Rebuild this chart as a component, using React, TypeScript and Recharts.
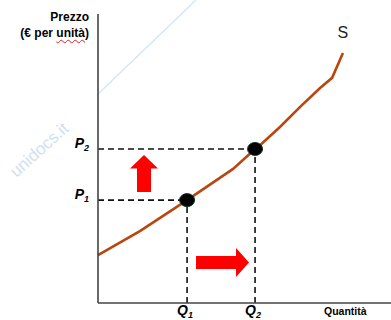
import React from 'react';
import {
  ComposedChart,
  Line,
  Scatter,
  XAxis,
  YAxis,
  ReferenceLine,
} from 'recharts';

// Supply curve S: quantity (x) against price per unit (y)
const supplyQuantity = [0, 14.3, 30.4, 46.1, 53.6, 55.3, 62.1, 68.9, 75.8, 79.9, 83.6];
const supplyPrice = [16.6, 24.9, 35.6, 46.4, 53.3, 54.6, 60.9, 67.8, 74.4, 77.9, 86.5];

// Two equilibrium points on the curve
const quantities = [30.4, 53.6];
const prices = [35.6, 53.3];
const quantityLabels = ['1', '2'];
const priceLabels = ['1', '2'];

// Direction arrows: rising price and rising quantity
const arrowX = [15.7, 42.5];
const arrowY = [44.8, 14.0];
const arrowDir = ['up', 'right'];

const supplyData = supplyQuantity.map((x, i) => ({ x, y: supplyPrice[i] }));
const pointData = quantities.map((x, i) => ({ x, y: prices[i] }));
const arrowData = arrowX.map((x, i) => ({ x, y: arrowY[i], dir: arrowDir[i] }));

const FONT = '"Liberation Sans", Arial, sans-serif';
const RED = '#ff0000';
const CURVE = '#b8460f';

const QTick = (props: any) => {
  const { x, y, payload } = props;
  const idx = quantities.indexOf(payload.value);
  return (
    <text x={x - 2} y={y + 8} textAnchor="middle" fontFamily={FONT} fontWeight="bold" fontStyle="italic" fontSize={14} fill="#000">
      <tspan>Q</tspan>
      <tspan fontSize={9} dy={2.5}>{quantityLabels[idx]}</tspan>
    </text>
  );
};

const PTick = (props: any) => {
  const { x, y, payload } = props;
  const idx = prices.indexOf(payload.value);
  return (
    <text x={x} y={y - 1} textAnchor="end" fontFamily={FONT} fontWeight="bold" fontStyle="italic" fontSize={14} fill="#000">
      <tspan>P</tspan>
      <tspan fontSize={9} dy={3}>{priceLabels[idx]}</tspan>
    </text>
  );
};

const EquilibriumDot = (props: any) => {
  const { cx, cy } = props;
  return <ellipse cx={cx} cy={cy} rx={7.5} ry={6.5} fill="#000" stroke="#123322" strokeWidth={1} />;
};

const Arrow = (props: any) => {
  const { cx, cy, payload } = props;
  if (payload.dir === 'up') {
    const pts = [
      [cx - 7, cy + 18.5],
      [cx + 7, cy + 18.5],
      [cx + 7, cy - 5],
      [cx + 14, cy - 5],
      [cx, cy - 18.5],
      [cx - 14, cy - 5],
      [cx - 7, cy - 5],
    ];
    return <polygon points={pts.map((p) => p.join(',')).join(' ')} fill={RED} />;
  }
  const pts = [
    [cx - 26.5, cy - 6.5],
    [cx + 13.5, cy - 6.5],
    [cx + 13.5, cy - 14.5],
    [cx + 26.5, cy],
    [cx + 13.5, cy + 14.5],
    [cx + 13.5, cy + 6.5],
    [cx - 26.5, cy + 6.5],
  ];
  return <polygon points={pts.map((p) => p.join(',')).join(' ')} fill={RED} />;
};

const SupplyLabel = (props: any) => {
  const { x, y, index } = props;
  if (index !== supplyData.length - 1) return null;
  return (
    <text x={x} y={y - 15} textAnchor="middle" fontFamily={FONT} fontSize={16} fill="#222">
      S
    </text>
  );
};

const dash = { stroke: '#111', strokeWidth: 1.6, strokeDasharray: '6 4' };

export default function App() {
  return (
    <div style={{ position: 'absolute', left: 0, top: 0, width: 391, height: 320, background: '#fff', fontFamily: FONT }}>
      <svg width={391} height={320} style={{ position: 'absolute', left: 0, top: 0 }}>
        <line x1={97} y1={95} x2={196} y2={0} stroke="#d6e6f6" strokeWidth={1.5} />
        <text
          x={43}
          y={154}
          textAnchor="middle"
          fontFamily={FONT}
          fontSize={17}
          fill="#d0e1f2"
          transform="rotate(-42 43 154)"
        >
          unidocs.it
        </text>
      </svg>
      <div style={{ position: 'absolute', left: 0, top: 0 }}>
        <ComposedChart width={391} height={320} margin={{ top: 14, right: 0, bottom: 0, left: 0 }}>
          <XAxis
            type="number"
            dataKey="x"
            domain={[0, 100]}
            ticks={quantities}
            tick={<QTick />}
            tickLine={false}
            tickSize={0}
            tickMargin={4}
            height={17}
            axisLine={{ stroke: '#444', strokeWidth: 1.6 }}
            interval={0}
          />
          <YAxis
            type="number"
            dataKey="y"
            domain={[0, 100]}
            ticks={prices}
            tick={<PTick />}
            tickLine={false}
            tickSize={0}
            tickMargin={9}
            width={98}
            axisLine={{ stroke: '#444', strokeWidth: 1.6 }}
            interval={0}
          />
          <ReferenceLine segment={[{ x: 0, y: prices[0] }, { x: quantities[0], y: prices[0] }]} {...dash} />
          <ReferenceLine segment={[{ x: quantities[0], y: 0 }, { x: quantities[0], y: prices[0] }]} {...dash} />
          <ReferenceLine segment={[{ x: 0, y: prices[1] }, { x: quantities[1], y: prices[1] }]} {...dash} />
          <ReferenceLine segment={[{ x: quantities[1], y: 0 }, { x: quantities[1], y: prices[1] }]} {...dash} />
          <Line
            data={supplyData}
            dataKey="y"
            type="linear"
            stroke={CURVE}
            strokeWidth={2.6}
            dot={false}
            activeDot={false}
            isAnimationActive={false}
            label={<SupplyLabel />}
          />
          <Scatter data={pointData} dataKey="y" shape={<EquilibriumDot />} isAnimationActive={false} />
          <Scatter data={arrowData} dataKey="y" shape={<Arrow />} isAnimationActive={false} />
        </ComposedChart>
      </div>
      <div style={{ position: 'absolute', right: 302, top: 9, textAlign: 'right', fontWeight: 'bold', fontSize: 12, lineHeight: '16px', whiteSpace: 'nowrap', color: '#000' }}>
        <div>Prezzo</div>
        <div>
          (€ per{' '}
          <span style={{ textDecoration: 'underline wavy #e02020', textDecorationThickness: 1, textUnderlineOffset: 2 }}>unità</span>)
        </div>
      </div>
      <div style={{ position: 'absolute', left: 324, top: 305, fontWeight: 'bold', fontSize: 10.5, whiteSpace: 'nowrap', color: '#000' }}>
        Quantità
      </div>
    </div>
  );
}
